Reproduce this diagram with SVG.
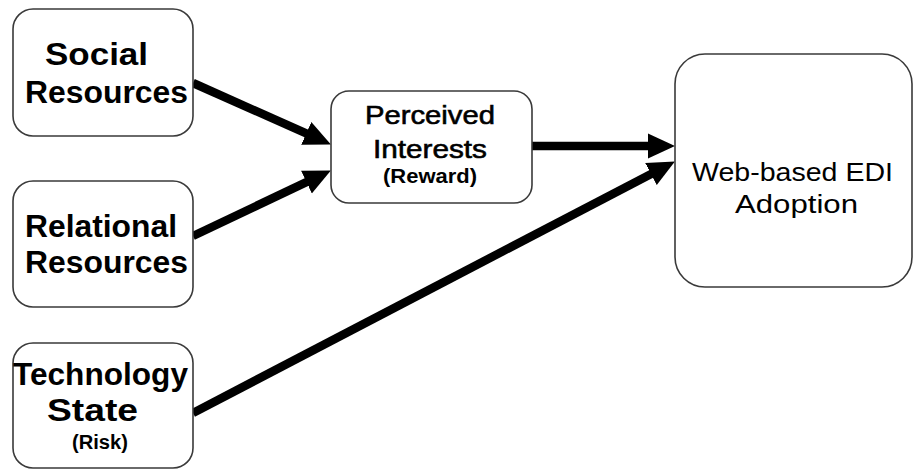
<svg xmlns="http://www.w3.org/2000/svg" width="913" height="470" viewBox="0 0 913 470">
  <style>
    .box { fill: #ffffff; stroke: #3a3a3a; stroke-width: 1.6; }
    .big { font-family: "Liberation Sans", Arial, sans-serif; font-weight: bold; font-size: 32px; fill: #000; }
    .mid { font-family: "Liberation Sans", Arial, sans-serif; font-size: 26.5px; fill: #000; }
    .heavy { stroke: #000; stroke-width: 0.6; }
    .small { font-family: "Liberation Sans", Arial, sans-serif; font-weight: bold; font-size: 19.5px; fill: #000; }
    .link { stroke: #000; stroke-width: 8.5; fill: none; marker-end: url(#head); }
  </style>
  <defs>
    <marker id="head" markerUnits="userSpaceOnUse" markerWidth="27" markerHeight="26" refX="11" refY="12.5" orient="auto" viewBox="0 0 27 25">
      <path d="M0,0 L27,12.5 L0,25 z" fill="#000"/>
    </marker>
  </defs>
  <rect width="913" height="470" fill="#ffffff"/>

  <g id="connectors">
    <line class="link" x1="193" y1="83" x2="316.3" y2="137.9"/>
    <line class="link" x1="193" y1="236" x2="316.4" y2="177.4"/>
    <line class="link" x1="532" y1="146" x2="659" y2="146"/>
    <line class="link" x1="193" y1="413" x2="660.7" y2="168.9"/>
  </g>

  <g id="social-resources">
    <rect class="box" x="13" y="9" width="180" height="127" rx="20"/>
    <text class="big" x="45" y="65" textLength="103" lengthAdjust="spacingAndGlyphs">Social</text>
    <text class="big" x="25" y="103" textLength="163" lengthAdjust="spacingAndGlyphs">Resources</text>
  </g>

  <g id="relational-resources">
    <rect class="box" x="13" y="181" width="180" height="126" rx="20"/>
    <text class="big" x="25" y="237" textLength="152" lengthAdjust="spacingAndGlyphs">Relational</text>
    <text class="big" x="25" y="273" textLength="163" lengthAdjust="spacingAndGlyphs">Resources</text>
  </g>

  <g id="technology-state">
    <rect class="box" x="13" y="343" width="180" height="125" rx="20"/>
    <text class="big" x="13" y="385" textLength="175" lengthAdjust="spacingAndGlyphs">Technology</text>
    <text class="big" x="47" y="421" textLength="91" lengthAdjust="spacingAndGlyphs">State</text>
    <text class="small" x="72" y="449" textLength="56" lengthAdjust="spacingAndGlyphs">(Risk)</text>
  </g>

  <g id="perceived-interests">
    <rect class="box" x="331" y="91" width="201" height="112" rx="18"/>
    <text class="mid heavy" x="365" y="124" textLength="130" lengthAdjust="spacingAndGlyphs">Perceived</text>
    <text class="mid heavy" x="373" y="158" textLength="114" lengthAdjust="spacingAndGlyphs">Interests</text>
    <text class="small" x="383" y="183" textLength="94" lengthAdjust="spacingAndGlyphs">(Reward)</text>
  </g>

  <g id="web-edi-adoption">
    <rect class="box" x="675" y="54" width="237" height="233" rx="30"/>
    <text class="mid" x="692" y="181" textLength="201" lengthAdjust="spacingAndGlyphs">Web-based EDI</text>
    <text class="mid" x="735" y="213" textLength="123" lengthAdjust="spacingAndGlyphs">Adoption</text>
  </g>
</svg>
